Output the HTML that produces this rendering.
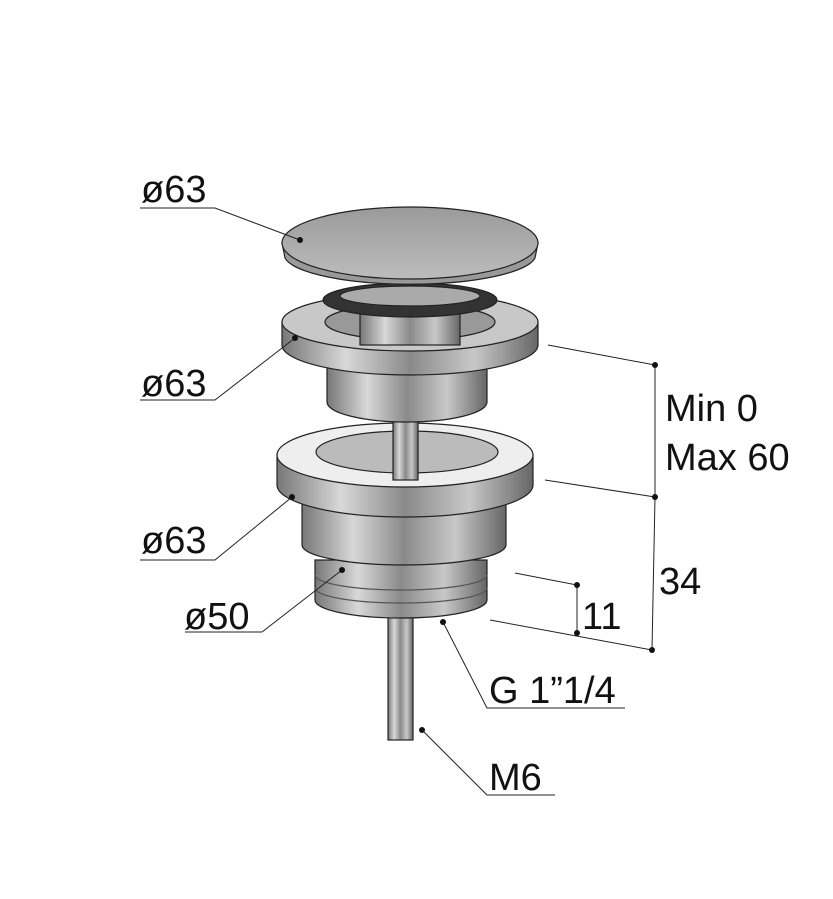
<!DOCTYPE html>
<html><head><style>body{margin:0;background:#fff}svg{display:block}text{font-family:"Liberation Sans",sans-serif;fill:#111}</style></head><body>
<svg width="833" height="899" viewBox="0 0 833 899" xmlns="http://www.w3.org/2000/svg">
<defs>
<linearGradient id="m" x1="0" x2="1"><stop offset="0" stop-color="#777"/><stop offset=".25" stop-color="#d8d8d8"/><stop offset=".5" stop-color="#8a8a8a"/><stop offset=".75" stop-color="#c8c8c8"/><stop offset="1" stop-color="#666"/></linearGradient>
<linearGradient id="c" x1="0" y1="0" x2="0" y2="1"><stop offset="0" stop-color="#9a9a9a"/><stop offset="1" stop-color="#bcbcbc"/></linearGradient>
</defs>
<g stroke="#222" stroke-width="1.2">
<rect x="388" y="600" width="25" height="140" fill="url(#m)"/>
<path d="M315 560 L315 600 A86 18 0 0 0 487 600 L487 560 Z" fill="url(#m)"/>
<path d="M315 575 A86 15 0 0 0 487 575 M315 588 A86 15 0 0 0 487 588" fill="none" stroke="#555"/>
<path d="M302 495 L302 545 A102 20 0 0 0 506 545 L506 495 Z" fill="url(#m)"/>
<path d="M277 455 L277 485 A128 32 0 0 0 533 485 L533 455 Z" fill="url(#m)"/>
<ellipse cx="405" cy="455" rx="128" ry="32" fill="#eee"/>
<ellipse cx="407" cy="452" rx="91" ry="21" fill="#bbb"/>
<rect x="393" y="405" width="25" height="75" fill="url(#m)"/>
<path d="M327 355 L327 402 A80 20 0 0 0 487 402 L487 355 Z" fill="url(#m)"/>
<path d="M282 322 L282 345 A128 30 0 0 0 538 345 L538 322 Z" fill="url(#m)"/>
<ellipse cx="410" cy="322" rx="128" ry="29" fill="#c8c8c8"/>
<ellipse cx="410" cy="322" rx="85" ry="18" fill="#999"/>
<rect x="360" y="305" width="100" height="40" fill="url(#m)"/>
<ellipse cx="410" cy="300" rx="87" ry="17" fill="#333"/>
<ellipse cx="410" cy="296" rx="70" ry="10" fill="#aaa"/>
<path d="M282 243 L285 258 A126 30 0 0 0 535 258 L538 243 Z" fill="#999"/>
<ellipse cx="410" cy="243" rx="128" ry="36" fill="url(#c)"/>
</g>
<g stroke="#222" stroke-width="1" fill="none">
<path d="M140 208 H215 L300 240"/>
<path d="M140 400 H215 L295 338"/>
<path d="M140 560 H215 L292 497"/>
<path d="M185 632 H262 L342 570"/>
<path d="M443 622 L487 708 H625"/>
<path d="M422 730 L487 795 H555"/>
<path d="M548 345 L655 365 V497 L652 650 M545 480 L655 497 M515 573 L577 585 V633 M490 620 L652 650"/>
</g>
<g fill="#111">
<circle cx="300" cy="240" r="3"/><circle cx="295" cy="338" r="3"/><circle cx="292" cy="497" r="3"/><circle cx="342" cy="570" r="3"/>
<circle cx="443" cy="622" r="3"/><circle cx="422" cy="730" r="3"/>
<circle cx="655" cy="365" r="3"/><circle cx="655" cy="497" r="3"/><circle cx="652" cy="650" r="3"/><circle cx="577" cy="585" r="3"/><circle cx="577" cy="633" r="3"/>
</g>
<g font-size="38">
<text x="141" y="202">ø63</text>
<text x="141" y="396">ø63</text>
<text x="141" y="553">ø63</text>
<text x="184" y="629">ø50</text>
<text x="665" y="421">Min 0</text>
<text x="665" y="470">Max 60</text>
<text x="659" y="594">34</text>
<text x="582" y="629">11</text>
<text x="489" y="703">G 1”1/4</text>
<text x="489" y="790">M6</text>
</g>
</svg>
</body></html>
